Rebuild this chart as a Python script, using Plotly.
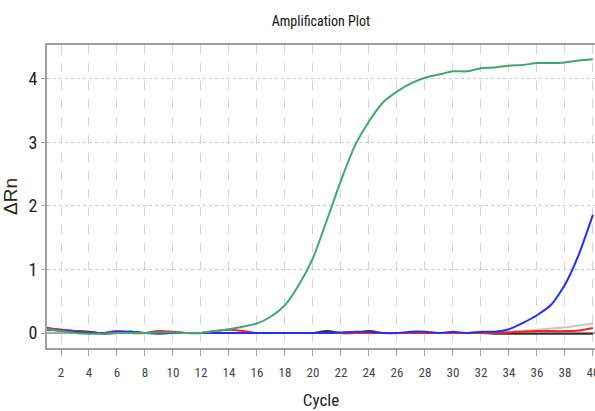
import plotly.graph_objects as go

cycles = list(range(1, 41))

green = [0.06, 0.03, 0.0, -0.01, -0.01, 0.0, 0.0, 0.0, 0.01, 0.01,
         0.0, 0.0, 0.03, 0.06, 0.1, 0.15, 0.26, 0.44, 0.76, 1.18,
         1.78, 2.4, 2.95, 3.33, 3.63, 3.8, 3.93, 4.02, 4.07, 4.12,
         4.12, 4.17, 4.18, 4.21, 4.22, 4.25, 4.25, 4.26, 4.29, 4.31]

blue = [0.05, 0.04, 0.02, 0.0, 0.0, 0.02, 0.02, 0.0, -0.01, 0.0,
        0.0, 0.0, 0.0, 0.0, 0.0, 0.0, 0.0, 0.0, 0.0, 0.0,
        0.0, 0.01, 0.02, 0.02, 0.0, 0.0, 0.02, 0.02, 0.0, 0.02,
        0.0, 0.02, 0.02, 0.06, 0.16, 0.28, 0.44, 0.76, 1.24, 1.86]

red = [0.07, 0.05, 0.03, 0.01, 0.0, 0.03, 0.0, 0.0, 0.03, 0.02,
       0.0, 0.0, 0.03, 0.05, 0.03, 0.0, 0.0, 0.0, 0.0, 0.0,
       0.0, 0.0, 0.0, 0.0, 0.0, 0.0, 0.0, 0.0, 0.0, 0.0,
       0.0, 0.0, 0.0, 0.01, 0.02, 0.03, 0.03, 0.03, 0.04, 0.08]

black = [0.08, 0.05, 0.03, 0.02, -0.01, 0.0, 0.02, 0.0, 0.0, 0.0,
         0.0, 0.0, 0.0, 0.0, 0.0, 0.0, 0.0, 0.0, 0.0, 0.0,
         0.03, 0.0, 0.0, 0.03, 0.0, 0.0, 0.0, 0.0, 0.0, 0.0,
         0.0, 0.0, -0.01, -0.01, -0.01, -0.01, -0.01, -0.01, -0.01, -0.01]

gray = [0.06, 0.04, 0.02, 0.01, 0.0, 0.0, 0.0, 0.0, 0.0, 0.0,
        0.0, 0.0, 0.0, 0.0, 0.0, 0.0, 0.0, 0.0, 0.0, 0.0,
        0.0, 0.0, 0.0, 0.0, 0.0, 0.0, 0.0, 0.0, 0.0, 0.0,
        0.0, 0.0, 0.01, 0.02, 0.04, 0.05, 0.07, 0.09, 0.12, 0.15]

x_ticks = list(range(2, 41, 2))
y_ticks = [0, 1, 2, 3, 4]

series = [
    ("gray", gray, "#c8c8c8"),
    ("black", black, "#303030"),
    ("red", red, "#ff2020"),
    ("blue", blue, "#2030ff"),
    ("green", green, "#3fa86e"),
]

fig = go.Figure()
for name, vals, col in series:
    fig.add_trace(go.Scatter(x=cycles, y=vals, mode="lines", name=name,
                             line=dict(color=col, width=2, shape="spline", smoothing=0.6)))

cond = "Roboto Condensed, Liberation Sans, Arial, sans-serif"
reg = "Liberation Sans, Arial, sans-serif"

fig.update_layout(
    width=595, height=411,
    margin=dict(l=47, r=0, t=45, b=63, autoexpand=False),
    paper_bgcolor="white", plot_bgcolor="white",
    showlegend=False,
    title=dict(text="Amplification Plot", x=0.5, xref="paper", y=1 - 21 / 411,
               yanchor="middle", xanchor="center",
               font=dict(family=cond, size=14, color="#111")),
    font=dict(family=cond, color="#222"),
)

fig.update_xaxes(
    automargin=False,
    range=[1, 40.15], tickvals=x_ticks, ticktext=[str(t) for t in x_ticks],
    tickfont=dict(family=cond, size=13, color="#444"),
    ticklabeloverflow="allow", ticklabelstandoff=5,
    showgrid=True, gridcolor="#d4d4d4", griddash="dash", gridwidth=1,
    showline=True, linecolor="#a0a0a0", linewidth=2, mirror=True,
    ticks="outside", ticklen=6, tickcolor="#a0a0a0",
    zeroline=False,
    title=dict(text="Cycle", font=dict(family=cond, size=17, color="#222"), standoff=16),
)

fig.update_yaxes(
    automargin=False,
    range=[-0.236, 4.535], tickvals=y_ticks, ticktext=[str(t) for t in y_ticks],
    tickfont=dict(family=cond, size=18, color="#222"),
    ticklabeloverflow="allow",
    showgrid=True, gridcolor="#c8c8c8", griddash="dot", gridwidth=1,
    showline=True, linecolor="#a0a0a0", linewidth=2, mirror=True,
    ticks="outside", ticklen=4, tickcolor="#a0a0a0",
    zeroline=True, zerolinecolor="#a8a8a8", zerolinewidth=2,
    title=dict(text="ΔRn", font=dict(family=reg, size=19, color="#222"), standoff=6),
)

fig.write_html("out.html", config={"displayModeBar": False},
               post_script="document.body.style.margin='0';document.body.style.overflow='hidden';")
